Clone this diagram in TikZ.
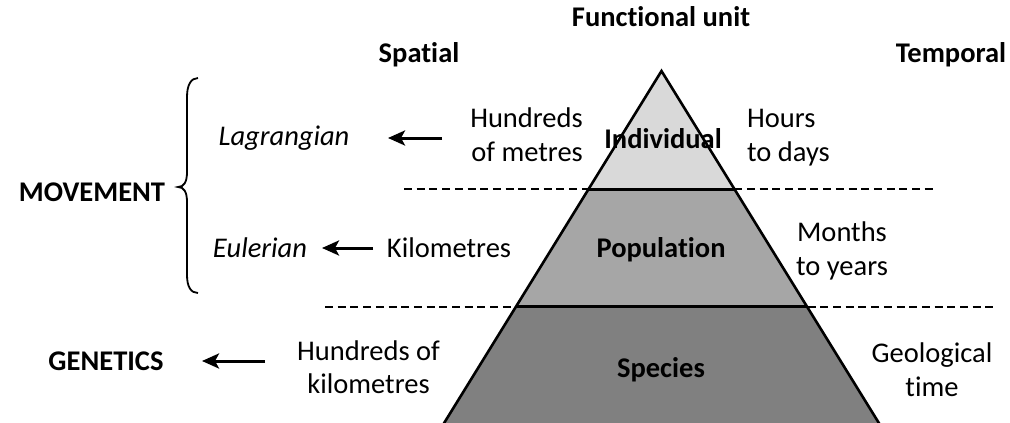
\documentclass[tikz,border=0pt]{standalone}
\usepackage{fontspec}
\setmainfont{Carlito}[Ligatures={NoCommon,NoRare,NoContextual},RawFeature=-calt]
\usetikzlibrary{arrows.meta}
\definecolor{lvlA}{HTML}{D9D9D9}
\definecolor{lvlB}{HTML}{A6A6A6}
\definecolor{lvlC}{HTML}{808080}
\begin{document}
\begin{tikzpicture}[x=1pt,y=-1pt,
  txt/.style={inner sep=0pt,font=\fontsize{28.5}{33.5}\selectfont},
  hd/.style={txt,font=\fontsize{28.5}{33.5}\selectfont\bfseries},
  itl/.style={txt,font=\fontsize{28.5}{33.5}\selectfont\itshape},
  dividerline/.style={line width=2pt,dash pattern=on 8pt off 4.7pt},
  edge/.style={line width=2.6pt,line join=miter},
  arr/.style={line width=3pt,-{Stealth[length=17pt,width=15pt,inset=4pt]}}]
\useasboundingbox (0,0) rectangle (1010,423);
% dashed guide lines
\draw[dividerline] (404,189.3) -- (934,189.3);
\draw[dividerline] (325,306.7) -- (998,306.7);
% pyramid levels
\fill[lvlA] (661.5,71) -- (734.5,189.3) -- (588.5,189.3) -- cycle;
\fill[lvlB] (588.5,189.3) -- (734.5,189.3) -- (807,306.7) -- (516,306.7) -- cycle;
\fill[lvlC] (516,306.7) -- (807,306.7) -- (879.5,424) -- (443.5,424) -- cycle;
\draw[edge] (443.5,424) -- (661.5,71) -- (879.5,424);
\draw[edge] (588.5,189.3) -- (734.5,189.3);
\draw[edge] (516,306.7) -- (807,306.7);
% headings
\node[hd,anchor=base] (fu) at (661,26) {Functional unit};
\node[hd,anchor=base] (sp) at (419,62) {Spatial};
\node[hd,anchor=base] (tp) at (951,62) {Temporal};
\node[hd,anchor=base] (mv) at (92,201) {MOVEMENT};
\node[hd,anchor=base] (ge) at (106,370) {GENETICS};
% level names
\node[hd,anchor=base] (ind) at (663,148) {Individual};
\node[hd,anchor=base] (pop) at (661,257) {Population};
\node[hd,anchor=base] (spc) at (661,377) {Species};
% spatial texts
\node[itl,anchor=base] (lag) at (284,145) {Lagrangian};
\node[itl,anchor=base] (eul) at (260,257) {Eulerian};
\node[txt,anchor=base] (km) at (449,257) {Kilometres};
\node[txt,align=right,anchor=base east] (hm) at (583,161) {Hundreds\\of metres};
\node[txt,align=center,anchor=base] (hk) at (368.5,393.5) {Hundreds of\\kilometres};
% temporal texts
\node[txt,align=left,anchor=base west] (hrs) at (747,161) {Hours\\to days};
\node[txt,align=center,anchor=base] (my) at (842,275) {Months\\to years};
\node[txt,align=center,anchor=base] (gt) at (932,396) {Geological\\time};
% arrows
\coordinate (a1s) at (442,138); \coordinate (a1e) at (388,138);
\coordinate (a2s) at (373,248); \coordinate (a2e) at (322,248);
\coordinate (a3s) at (265,361); \coordinate (a3e) at (202,361);
\draw[arr] (a1s) -- (a1e);
\draw[arr] (a2s) -- (a2e);
\draw[arr] (a3s) -- (a3e);
% brace
\draw[line width=1.8pt] (198,78) .. controls (191,78) and (187,85) .. (187,97) -- (187,172)
  .. controls (187,182) and (184,187) .. (178,187)
  .. controls (184,187) and (187,192) .. (187,202) -- (187,275)
  .. controls (187,287) and (191,293) .. (198,293);
\end{tikzpicture}
\end{document}
